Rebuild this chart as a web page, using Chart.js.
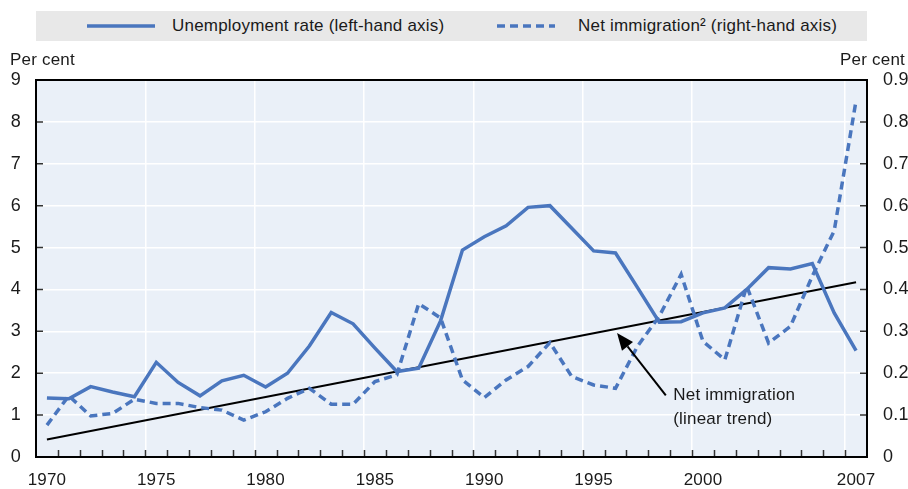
<!DOCTYPE html>
<html><head><meta charset="utf-8">
<script src="https://cdn.jsdelivr.net/npm/chart.js@4.4.0/dist/chart.umd.min.js"></script>
<style>
html,body{margin:0;padding:0;background:#fff;}
#wrap{position:relative;width:908px;height:489px;overflow:hidden;font-family:'Liberation Sans',Arial,sans-serif;color:#1a1a1a;}
#c{position:absolute;left:0;top:0;}
.legend{position:absolute;left:36px;top:11px;width:831px;height:30px;background:#e8e8e8;}
.item{position:absolute;top:0;height:30px;display:flex;align-items:center;font-size:17px;letter-spacing:0.2px;white-space:nowrap;}
.unit{position:absolute;top:50px;font-size:17px;letter-spacing:0.2px;line-height:20px;white-space:nowrap;}
</style></head>
<body><div id="wrap">
<canvas id="c" width="908" height="489"></canvas>
<div class="legend">
  <div class="item" style="left:51px"><svg width="68" height="6"><line x1="0" y1="3" x2="68" y2="3" stroke="#4a76be" stroke-width="3.5"/></svg><span style="margin-left:17px">Unemployment rate (left-hand axis)</span></div>
  <div class="item" style="left:461px"><svg width="58" height="6"><line x1="0" y1="3" x2="58" y2="3" stroke="#4a76be" stroke-width="3.5" stroke-dasharray="8,5"/></svg><span style="margin-left:23px">Net immigration² (right-hand axis)</span></div>
</div>
<div class="unit" style="left:10px">Per cent</div>
<div class="unit" style="right:3px">Per cent</div>
</div>
<script>
// ---- data ----
const years = ['1970','1971','1972','1973','1974','1975','1976','1977','1978','1979',
  '1980','1981','1982','1983','1984','1985','1986','1987','1988','1989',
  '1990','1991','1992','1993','1994','1995','1996','1997','1998','1999',
  '2000','2001','2002','2003','2004','2005','2006','2007'];
const labelledYears = ['1970','1975','1980','1985','1990','1995','2000','2007'];
const unemployment = [1.41,1.39,1.68,1.55,1.44,2.26,1.78,1.46,1.82,1.95,
  1.67,2.00,2.65,3.45,3.18,2.60,2.04,2.12,3.25,4.94,
  5.26,5.52,5.96,6.00,5.46,4.92,4.87,4.05,3.22,3.23,
  3.44,3.56,4.00,4.52,4.49,4.62,3.44,2.54];
const netImmigration = [0.076,0.146,0.098,0.104,0.138,0.128,0.128,0.118,0.112,0.088,
  0.108,0.140,0.164,0.126,0.126,0.180,0.196,0.366,0.332,0.184,
  0.142,0.184,0.216,0.273,0.192,0.172,0.164,0.264,0.336,0.436,
  0.276,0.232,0.408,0.272,0.312,0.432,0.540,0.851];
const trendYears = ['1970','2007'];
const trendValues = [0.042, 0.417];
const leftTicks = [0,1,2,3,4,5,6,7,8,9];
const rightTicks = [0,0.1,0.2,0.3,0.4,0.5,0.6,0.7,0.8,0.9];

const BLUE = '#4a76be';
const FONT = "'Liberation Sans',Arial,sans-serif";
const SPACING = '0.2px';

const annotation = {
  tip: {x: 26.07, y: 0.296},
  tail: {x: 28.3, y: 0.147},
  text: {x: 28.64, ys: [0.148, 0.090]},
  lines: ['Net immigration', '(linear trend)']
};

const stylePlugin = {
  id: 'style',
  beforeUpdate(chart){ chart.ctx.letterSpacing = SPACING; },
  beforeDraw(chart){
    const {ctx, chartArea:a} = chart;
    ctx.letterSpacing = SPACING;
    ctx.save();
    ctx.fillStyle = '#eaf0f8';
    ctx.fillRect(a.left, a.top, a.right - a.left, a.bottom - a.top);
    ctx.restore();
  },
  afterDatasetsDraw(chart){
    const {ctx, chartArea:a, scales} = chart;
    const xs = scales.x, ys = scales.y, y2 = scales.y2;
    ctx.save();
    // inward tick marks
    ctx.strokeStyle = '#333';
    ctx.lineWidth = 1.5;
    ctx.beginPath();
    for (let i = 1; i < years.length; i++) {
      const x = Math.round(xs.getPixelForValue(i - 0.5)) + 0.5;
      ctx.moveTo(x, a.bottom); ctx.lineTo(x, a.bottom - 7);
    }
    leftTicks.forEach(v => {
      if (v === 0 || v === 9) return;
      const y = ys.getPixelForValue(v);
      ctx.moveTo(a.left, y); ctx.lineTo(a.left + 7, y);
      ctx.moveTo(a.right, y); ctx.lineTo(a.right - 7, y);
    });
    ctx.stroke();
    // frame
    ctx.strokeStyle = '#000';
    ctx.lineWidth = 2;
    ctx.strokeRect(a.left, a.top, a.right - a.left, a.bottom - a.top);
    // annotation arrow
    const tx = xs.getPixelForValue(annotation.tip.x), ty = y2.getPixelForValue(annotation.tip.y);
    const sx = xs.getPixelForValue(annotation.tail.x), sy = y2.getPixelForValue(annotation.tail.y);
    const ang = Math.atan2(ty - sy, tx - sx);
    const hl = 17, hw = 7;
    const bx = tx - hl * Math.cos(ang), by = ty - hl * Math.sin(ang);
    ctx.strokeStyle = '#000';
    ctx.lineWidth = 2;
    ctx.beginPath(); ctx.moveTo(sx, sy); ctx.lineTo(bx, by); ctx.stroke();
    ctx.fillStyle = '#000';
    ctx.beginPath();
    ctx.moveTo(tx, ty);
    ctx.lineTo(bx + hw * Math.sin(ang), by - hw * Math.cos(ang));
    ctx.lineTo(bx - hw * Math.sin(ang), by + hw * Math.cos(ang));
    ctx.closePath(); ctx.fill();
    // annotation text
    ctx.fillStyle = '#1a1a1a';
    ctx.font = '17px ' + FONT;
    ctx.textAlign = 'left';
    ctx.textBaseline = 'middle';
    const lx = xs.getPixelForValue(annotation.text.x);
    annotation.lines.forEach((t, k) => ctx.fillText(t, lx, y2.getPixelForValue(annotation.text.ys[k])));
    ctx.restore();
  }
};

new Chart(document.getElementById('c'), {
  type: 'line',
  data: {
    labels: years,
    datasets: [
      {label: 'Unemployment rate (left-hand axis)', data: unemployment, yAxisID: 'y',
       borderColor: BLUE, borderWidth: 3.5, pointRadius: 0, tension: 0, fill: false},
      {label: 'Net immigration² (right-hand axis)', data: netImmigration, yAxisID: 'y2',
       borderColor: BLUE, borderWidth: 3.5, borderDash: [8,5], pointRadius: 0, tension: 0, fill: false},
      {label: 'Net immigration (linear trend)', data: trendYears.map((y,i)=>({x:y, y:trendValues[i]})), yAxisID: 'y2',
       borderColor: '#000', borderWidth: 2, pointRadius: 0, tension: 0, fill: false, spanGaps: true}
    ]
  },
  options: {
    responsive: false,
    animation: false,
    events: [],
    layout: {padding: {top: 80, left: 0, right: 0, bottom: 0}},
    plugins: {legend: {display: false}, tooltip: {enabled: false}, title: {display: false}},
    scales: {
      x: {
        type: 'category', offset: true,
        grid: {offset: true, drawTicks: false, lineWidth: 1.5,
          color: c => (c.index > 0 && c.index < years.length && labelledYears.includes(years[c.index])) ? '#ffffff' : 'rgba(0,0,0,0)'},
        border: {display: true, color: '#000', width: 2},
        ticks: {autoSkip: false, maxRotation: 0, minRotation: 0, padding: 13, color: '#1a1a1a',
          font: {family: FONT, size: 17},
          callback: (v, i) => labelledYears.includes(years[i]) ? years[i] : ''},
        afterFit: s => { s.height = 32; }
      },
      y: {
        position: 'left', min: 0, max: 9,
        afterBuildTicks: s => { s.ticks = leftTicks.map(v => ({value: v})); },
        grid: {color: '#ffffff', lineWidth: 1.5, drawTicks: false},
        border: {display: true, color: '#000', width: 2},
        ticks: {padding: 15, color: '#1a1a1a', font: {family: FONT, size: 18}, callback: v => String(v)},
        afterFit: s => { s.width = 36; }
      },
      y2: {
        position: 'right', min: 0, max: 0.9,
        afterBuildTicks: s => { s.ticks = rightTicks.map(v => ({value: v})); },
        grid: {drawOnChartArea: false, drawTicks: false},
        border: {display: true, color: '#000', width: 2},
        ticks: {padding: 16, color: '#1a1a1a', font: {family: FONT, size: 18},
          callback: v => v === 0 ? '0' : Number(v).toFixed(1)},
        afterFit: s => { s.width = 41; }
      }
    }
  },
  plugins: [stylePlugin]
});
</script>
</body></html>
